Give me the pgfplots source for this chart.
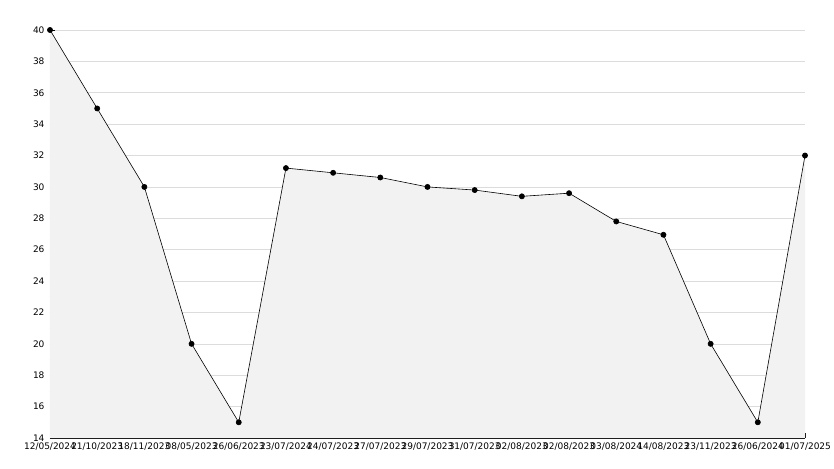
\documentclass[border=0pt]{standalone}
\usepackage{pgfplots}
\pgfplotsset{compat=1.18}
\usepackage{fontspec}
\setmainfont{DejaVu Sans}
\definecolor{fillgray}{HTML}{F2F2F2}
\definecolor{gridgray}{HTML}{DCDCDC}
\begin{document}
\begin{tikzpicture}
\useasboundingbox (-50pt,-30pt) rectangle (784pt,438pt);
\begin{axis}[
  at={(0,0)}, anchor=south west,
  scale only axis, width=755pt, height=408pt,
  xmin=0, xmax=16, ymin=14, ymax=40,
  axis x line*=bottom, axis y line*=left,
  axis line style={-, line width=0.8pt},
  xtick={0,...,16},
  xticklabels={12/05/2024,21/10/2023,18/11/2023,08/05/2023,26/06/2023,23/07/2024,24/07/2023,27/07/2023,29/07/2023,31/07/2023,02/08/2023,02/08/2023,03/08/2024,14/08/2023,23/11/2023,26/06/2024,01/07/2025},
  ytick={14,16,...,40},
  minor ytick={15,17,...,39},
  tick align=inside,
  major tick length=5pt, minor tick length=3pt,
  tick style={black, line width=0.6pt},
  ymajorgrids, major grid style={gridgray, line width=0.6pt},
  every tick label/.append style={font=\fontsize{9}{10}\selectfont},
  xticklabel style={yshift=-1pt},
  yticklabel style={xshift=-2pt},
  /pgf/number format/assume math mode=true,
  clip=false,
]
\addplot[draw=none, fill=fillgray] table {
x y
0 40
1 35
2 30
3 20
4 15
5 31.2
6 30.9
7 30.6
8 30.0
9 29.8
10 29.4
11 29.6
12 27.8
13 26.95
14 20
15 15
16 32
} \closedcycle;
\addplot[black, line width=0.6pt, mark=*, mark size=2.6pt, mark options={fill=black}] table {
x y
0 40
1 35
2 30
3 20
4 15
5 31.2
6 30.9
7 30.6
8 30.0
9 29.8
10 29.4
11 29.6
12 27.8
13 26.95
14 20
15 15
16 32
};
\end{axis}
\end{tikzpicture}
\end{document}
